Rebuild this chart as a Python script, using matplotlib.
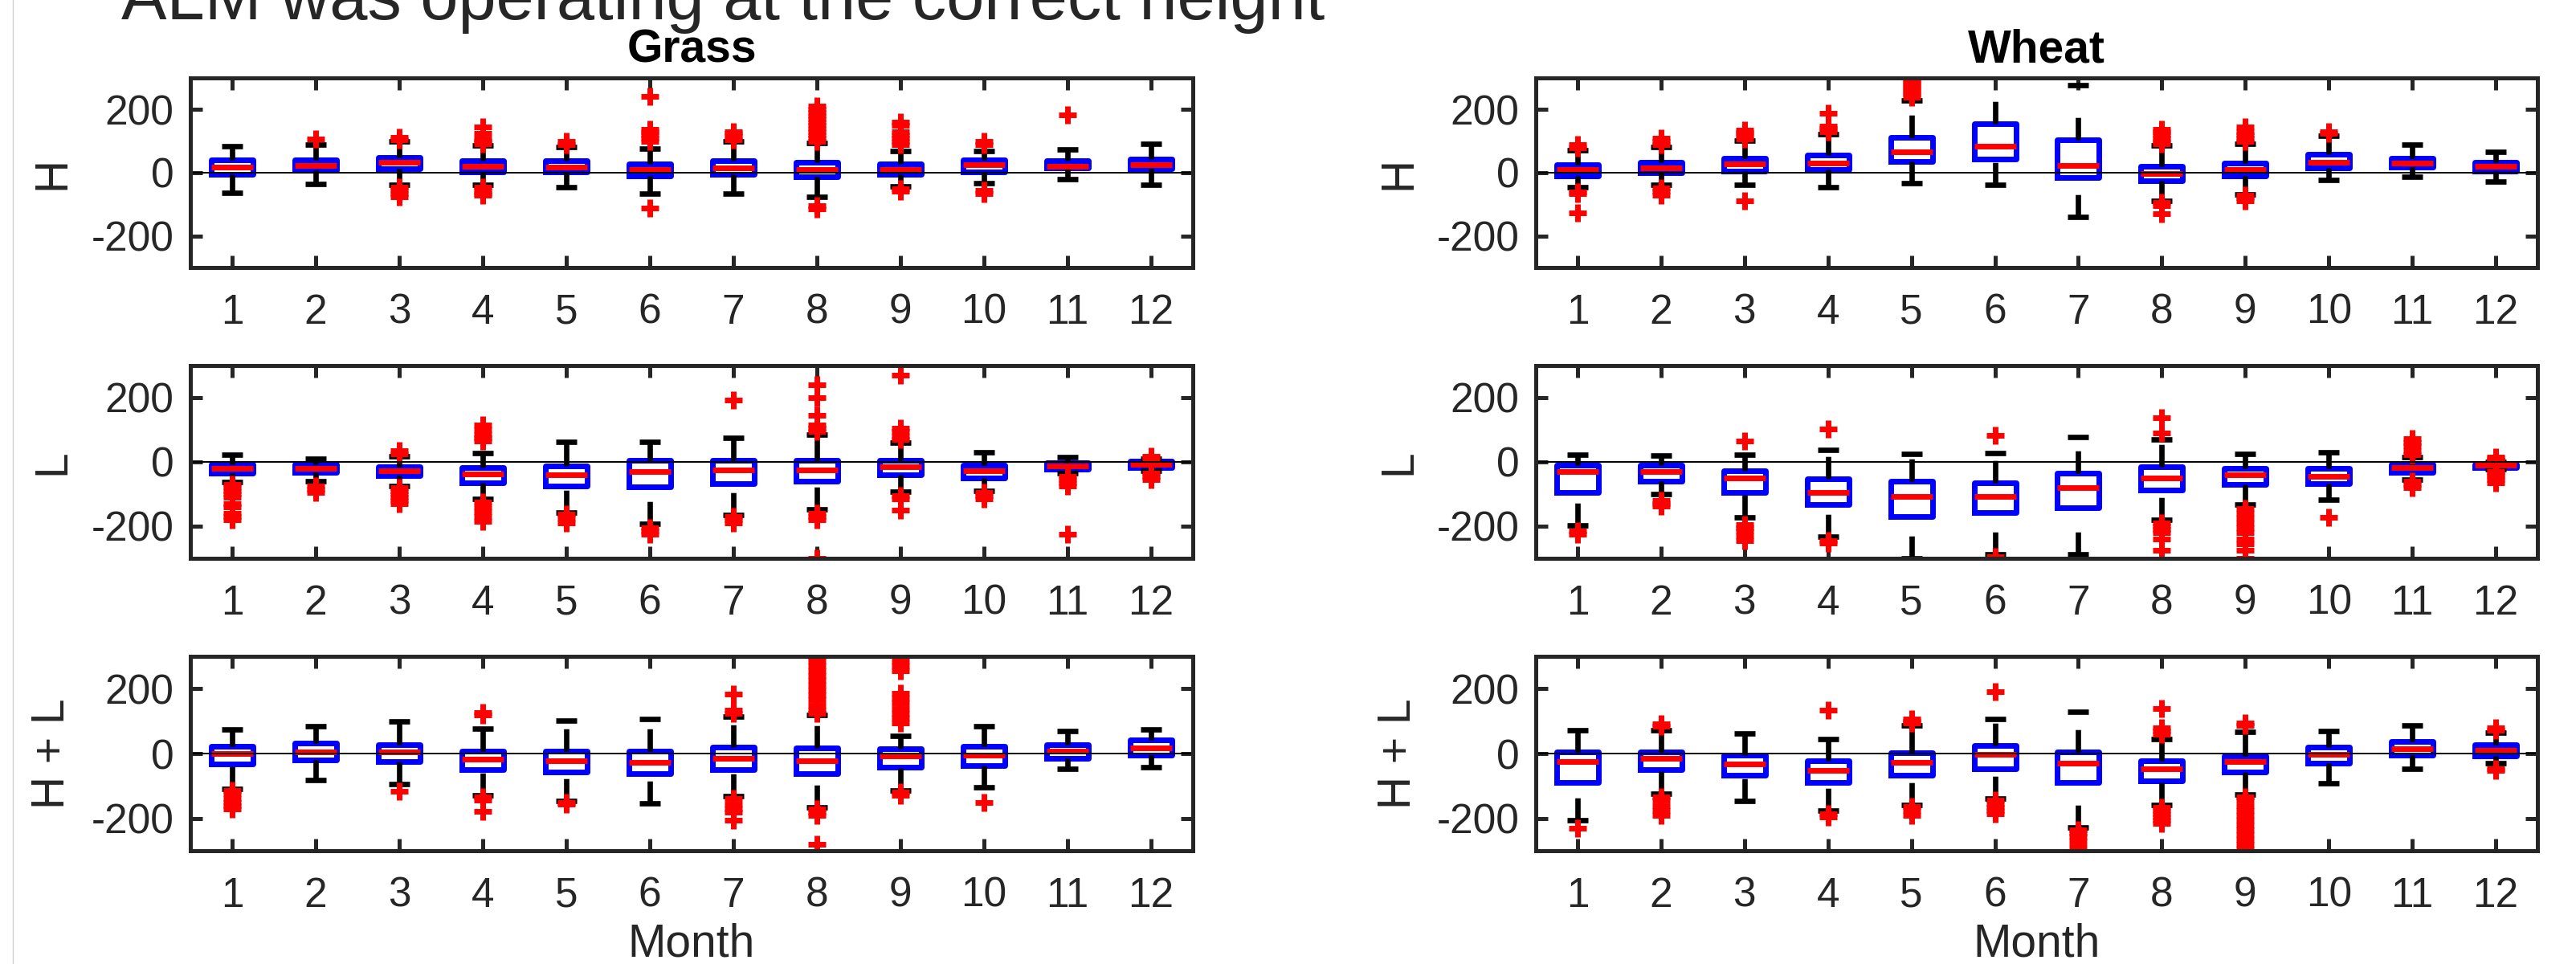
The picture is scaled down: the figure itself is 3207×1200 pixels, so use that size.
import matplotlib
matplotlib.use('Agg')
import matplotlib.pyplot as plt
from matplotlib.lines import Line2D

plt.rcParams['font.family'] = ['Liberation Sans', 'DejaVu Sans']
plt.rcParams['axes.unicode_minus'] = False
plt.rcParams['lines.scale_dashes'] = False

months = list(range(1, 13))
month_labels = [str(m) for m in months]
yticks = [-200, 0, 200]
suptitle = 'ALM was operating at the correct height'
col_titles = ['Grass', 'Wheat']
row_labels = ['H', 'L', 'H + L']

# ---------------- Grass, H ----------------
grass_H_q3 = [40, 40, 48, 37, 39, 29, 37, 32, 27, 40, 39, 44]
grass_H_med = [17, 22, 32, 21, 19, 11, 16, 11, 11, 25, 21, 25]
grass_H_q1 = [-4, 7, 12, 2, 2, -11, -6, -12, -6, 3, 15, 12]
grass_H_hi = [83, 90, 100, 87, 81, 77, 100, 93, 69, 68, 73, 92]
grass_H_lo = [-64, -35, -37, -37, -46, -65, -67, -75, -43, -33, -21, -37]
grass_H_out = [[], [108], [105, 112, -45, -55, -65, -75],
               [92, 100, 108, 125, 145, -45, -55, -65, -72], [90, 98],
               [100, 110, 120, 130, 138, 242, -112], [105, 115, 125, 130],
               [100, 110, 120, 130, 140, 150, 160, 170, 180, 190, 200, 210, -105, -115],
               [90, 100, 110, 120, 130, 150, 160, -50, -58], [90, 98, -55, -65],
               [183], []]

# ---------------- Wheat, H ----------------
wheat_H_q3 = [26, 33, 46, 57, 112, 154, 104, 21, 31, 58, 47, 32]
wheat_H_med = [10, 14, 27, 30, 67, 83, 23, -2, 11, 33, 31, 21]
wheat_H_q1 = [-10, 0, 6, 9, 36, 44, -14, -25, -11, 15, 17, 4]
wheat_H_hi = [71, 81, 102, 122, 230, 315, 276, 87, 92, 117, 89, 65]
wheat_H_lo = [-46, -37, -39, -46, -32, -39, -139, -88, -68, -23, -13, -29]
wheat_H_out = [[78, 88, -60, -67, -128], [88, 100, 110, -48, -58, -70],
               [108, 118, 126, 135, -90], [130, 140, 148, 187],
               [240, 250, 258, 266, 275, 284, 292], [], [],
               [92, 100, 110, 120, 130, 137, -95, -105, -130],
               [100, 110, 120, 130, 145, -72, -80, -88], [125, 130], [], []]

# ---------------- Grass, L ----------------
grass_L_q3 = [-8, -8, -15, -18, -13, 6, 5, 5, 5, -11, -3, 2]
grass_L_med = [-21, -19, -28, -38, -39, -29, -24, -25, -15, -28, -13, -8]
grass_L_q1 = [-34, -32, -42, -64, -76, -78, -67, -61, -41, -49, -22, -18]
grass_L_hi = [23, 10, 18, 27, 63, 63, 76, 86, 59, 29, 14, 10]
grass_L_lo = [-62, -60, -74, -115, -158, -192, -164, -148, -93, -89, -35, -28]
grass_L_out = [[-70, -80, -90, -100, -110, -130, -140, -160, -170, -180],
               [-75, -85, -95], [25, 35, -80, -90, -100, -110, -120, -130],
               [65, 75, 85, 100, 115, -125, -140, -155, -170, -185],
               [-163, -175, -190], [-205, -215, -225], [192, -170, -180, -190],
               [95, 105, 115, 145, 200, 240, -160, -170, -180, -300],
               [70, 80, 95, 105, 270, -105, -115, -150], [-95, -105, -115],
               [-45, -55, -65, -75, -225], [12, 18, -35, -45, -55]]

# ---------------- Wheat, L ----------------
wheat_L_q3 = [-9, -11, -28, -53, -61, -64, -36, -15, -19, -19, -8, -7]
wheat_L_med = [-29, -30, -50, -95, -108, -108, -81, -49, -40, -45, -18, -11]
wheat_L_q1 = [-95, -61, -95, -133, -169, -157, -143, -87, -70, -67, -33, -17]
wheat_L_hi = [23, 21, 23, 38, 25, 27, 77, 69, 25, 29, 15, 0]
wheat_L_lo = [-197, -100, -173, -232, -300, -288, -287, -181, -133, -118, -55, -22]
wheat_L_out = [[-215, -225], [-120, -130, -138], [65, -195, -205, -215, -230, -245],
               [103, -245, -252], [], [82, -295], [],
               [90, 138, -190, -200, -210, -220, -240, -275],
               [-145, -160, -175, -190, -205, -220, -240, -255, -275, -300],
               [-173], [23, 35, 50, 60, 72, -60, -70, -80],
               [5, 10, 15, -30, -38, -45, -55, -65]]

# ---------------- Grass, H + L ----------------
grass_HL_q3 = [23, 31, 27, 8, 8, 8, 20, 17, 14, 23, 27, 42]
grass_HL_med = [0, 4, 4, -18, -23, -27, -15, -23, -8, -4, 8, 18]
grass_HL_q1 = [-33, -21, -25, -49, -58, -62, -50, -63, -41, -37, -14, -4]
grass_HL_hi = [75, 85, 98, 77, 102, 106, 115, 120, 54, 84, 69, 75]
grass_HL_lo = [-109, -81, -95, -128, -146, -153, -132, -165, -113, -105, -46, -42]
grass_HL_out = [[-115, -125, -140, -150, -160, -170], [], [-117],
                [118, 126, -135, -145, -178], [-150, -155], [],
                [125, 135, 184, -140, -155, -170, -180, -205],
                [125, 135, 150, 165, 180, 195, 210, 225, 240, 255, 270, 285, 300,
                 -170, -180, -190, -280],
                [95, 110, 125, 140, 155, 170, 185, 255, 270, 285, -120, -128],
                [-151], [], []]

# ---------------- Wheat, H + L ----------------
wheat_HL_q3 = [4, 6, -4, -23, 2, 26, 4, -23, -8, 20, 36, 27]
wheat_HL_med = [-26, -14, -31, -52, -28, -3, -30, -48, -26, -3, 15, 10]
wheat_HL_q1 = [-90, -50, -68, -90, -68, -46, -90, -84, -56, -30, -6, -7]
wheat_HL_hi = [73, 73, 63, 45, 87, 107, 129, 44, 67, 69, 87, 65]
wheat_HL_lo = [-207, -124, -147, -177, -159, -139, -227, -159, -127, -92, -46, -30]
wheat_HL_out = [[-230], [85, 92, -135, -145, -160, -175, -190], [],
                [135, -185, -195], [95, 100, 107, -163, -175, -190],
                [190, -145, -155, -165, -175, -185],
                [-235, -245, -255, -270, -288],
                [60, 70, 80, 138, -165, -175, -185, -195, -205, -215],
                [88, 95, -135, -145, -160, -175, -190, -205, -220, -235, -250,
                 -265, -280, -295],
                [], [], [72, 80, -46, -52]]

panels = [
    [(grass_H_q1, grass_H_med, grass_H_q3, grass_H_lo, grass_H_hi, grass_H_out),
     (wheat_H_q1, wheat_H_med, wheat_H_q3, wheat_H_lo, wheat_H_hi, wheat_H_out)],
    [(grass_L_q1, grass_L_med, grass_L_q3, grass_L_lo, grass_L_hi, grass_L_out),
     (wheat_L_q1, wheat_L_med, wheat_L_q3, wheat_L_lo, wheat_L_hi, wheat_L_out)],
    [(grass_HL_q1, grass_HL_med, grass_HL_q3, grass_HL_lo, grass_HL_hi, grass_HL_out),
     (wheat_HL_q1, wheat_HL_med, wheat_HL_q3, wheat_HL_lo, wheat_HL_hi, wheat_HL_out)],
]

W, H = 3207, 1200
fig = plt.figure(figsize=(W / 100, H / 100), dpi=100)
fig.patch.set_facecolor('white')

col_x = [(237, 1485), (1912, 3159)]
row_y = [(97, 333), (455, 695), (817, 1059)]
dark = '#262626'

for r in range(3):
    for c in range(2):
        x0, x1 = col_x[c]
        yt, yb = row_y[r]
        ax = fig.add_axes([x0 / W, 1 - yb / H, (x1 - x0) / W, (yb - yt) / H])
        q1, med, q3, lo, hi, out = panels[r][c]
        stats = [dict(q1=q1[i], med=med[i], q3=q3[i], whislo=lo[i], whishi=hi[i],
                      fliers=out[i]) for i in range(12)]
        art = ax.bxp(stats, positions=months, widths=0.5, capwidths=0.25,
                     showfliers=True, manage_ticks=False,
                     boxprops=dict(color='#0000ff', linewidth=5),
                     medianprops=dict(color='#ff0000', linewidth=5,
                                      solid_capstyle='butt'),
                     whiskerprops=dict(color='black', linewidth=4.8,
                                       linestyle=(0, (20, 27))),
                     capprops=dict(color='black', linewidth=4.8,
                                   solid_capstyle='butt'),
                     flierprops=dict(marker='+', markeredgecolor='#ff0000',
                                     markersize=16, markeredgewidth=5,
                                     linestyle='none'))
        # lower whiskers: dash pattern starts at the adjacent value
        for w in art['whiskers'][0::2]:
            w.set_ydata(list(w.get_ydata())[::-1])
        ax.axhline(0, color='black', linewidth=1.4, zorder=2.5)
        ax.set_xlim(0.5, 12.5)
        ax.set_ylim(-300, 300)
        ax.set_xticks(months)
        ax.set_xticklabels(month_labels)
        ax.set_yticks(yticks)
        ax.set_yticklabels([str(v) for v in yticks])
        for sp in ax.spines.values():
            sp.set_linewidth(3.6)
            sp.set_color(dark)
        ax.tick_params(axis='both', direction='in', length=11, width=3.6,
                       color=dark, labelcolor=dark, labelsize=37,
                       top=True, right=True)
        ax.tick_params(axis='x', pad=23)
        ax.tick_params(axis='y', pad=15)
        ax.set_ylabel(row_labels[r], fontsize=41, color=dark, va='center')
        ax.yaxis.set_label_coords((65 if c == 0 else 1741 - x0 + x0) / 1 and
                                  ((65 - x0) / (x1 - x0) if c == 0 else (1741 - x0) / (x1 - x0)),
                                  0.5)
        if r == 0:
            ax.set_title(col_titles[c], fontsize=41, fontweight='bold',
                         color='black', pad=14)
        if r == 2:
            ax.set_xlabel('Month', fontsize=41, color=dark, va='top')
            ax.xaxis.set_label_coords(0.5, -0.37)

fig.text(900 / W, 1 - 24 / H, suptitle, fontsize=61, ha='center',
         va='baseline', color=dark)
fig.add_artist(Line2D([16 / W, 16 / W], [0, 1], transform=fig.transFigure,
                      color='#d0d0d0', linewidth=1))

fig.savefig('out.png', dpi=100, facecolor='white')
